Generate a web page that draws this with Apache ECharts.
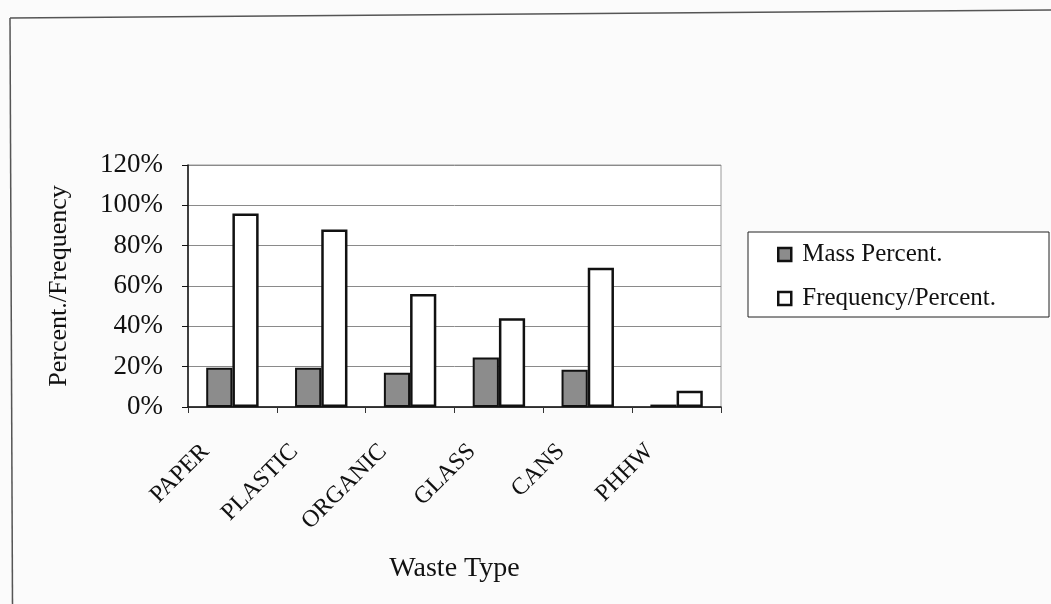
<!DOCTYPE html>
<html>
<head>
<meta charset="utf-8">
<script src="https://cdn.jsdelivr.net/npm/echarts@6/dist/echarts.min.js"></script>
<style>
  html, body { margin: 0; padding: 0; background: #fbfbfb; }
  #chart { width: 1051px; height: 604px; }
</style>
</head>
<body>
<div id="chart"></div>
<script>
// Waste composition: mass share vs. how often each type appears
const categories = ['PAPER', 'PLASTIC', 'ORGANIC', 'GLASS', 'CANS', 'PHHW'];
const massPercent = [19.5, 19.5, 17, 24.5, 18.5, 1.2];
const frequencyPercent = [96, 88, 56, 44, 69, 8];
const yTicks = [0, 20, 40, 60, 80, 100, 120];

const serif = '"Liberation Serif", "Times New Roman", serif';
const chart = echarts.init(document.getElementById('chart'), null, { renderer: 'canvas' });

chart.setOption({
  backgroundColor: '#fbfbfb',
  animation: false,
  textStyle: { fontFamily: serif, color: '#111' },
  graphic: [
    // outer frame (top and left edges)
    { type: 'polyline', shape: { points: [[10, 18], [1051, 10]] },
      style: { stroke: '#555', lineWidth: 1.5, fill: null }, silent: true },
    { type: 'polyline', shape: { points: [[10, 18], [12.5, 604]] },
      style: { stroke: '#555', lineWidth: 1.5, fill: null }, silent: true },
    // legend box
    { type: 'rect', shape: { x: 748, y: 232, width: 301, height: 85 },
      style: { fill: '#fff', stroke: '#222', lineWidth: 1 }, z: 0, silent: true }
  ],
  grid: {
    left: 188, top: 165, width: 533, height: 242,
    show: true, backgroundColor: '#fff', borderColor: '#9a9a9a', borderWidth: 1
  },
  legend: {
    orient: 'vertical',
    left: 772, top: 237,
    itemWidth: 13, itemHeight: 13, itemGap: 19,
    icon: 'rect',
    itemStyle: { borderColor: '#111', borderWidth: 2.5 },
    textStyle: { fontFamily: serif, fontSize: 25, color: '#111', padding: [0, 0, 0, 6] },
    data: ['Mass Percent.', 'Frequency/Percent.'],
    z: 5
  },
  xAxis: {
    type: 'category',
    data: categories,
    name: 'Waste Type',
    nameLocation: 'middle',
    nameGap: 148,
    nameTextStyle: { fontFamily: serif, fontSize: 28, color: '#111' },
    axisLine: { lineStyle: { color: '#111', width: 1.5 } },
    axisTick: { show: true, length: 6, lineStyle: { color: '#333' } },
    axisLabel: {
      rotate: 45, interval: 0, margin: 14,
      padding: [0, 38, 0, 0],
      fontFamily: serif, fontSize: 24, color: '#111'
    },
    splitLine: { show: false }
  },
  yAxis: {
    type: 'value',
    min: yTicks[0], max: yTicks[yTicks.length - 1], interval: 20,
    name: 'Percent./Frequency',
    nameLocation: 'middle',
    nameGap: 116,
    nameTextStyle: { fontFamily: serif, fontSize: 26, color: '#111' },
    axisLine: { show: true, lineStyle: { color: '#111', width: 1.5 } },
    axisTick: { show: true, length: 6, lineStyle: { color: '#111' } },
    axisLabel: {
      margin: 25, fontFamily: serif, fontSize: 27, color: '#111',
      formatter: '{value}%'
    },
    splitLine: { show: true, lineStyle: { color: '#8a8a8a', width: 1 } }
  },
  series: [
    {
      name: 'Mass Percent.',
      type: 'bar',
      data: massPercent,
      barGap: '0%',
      barCategoryGap: '41%',
      itemStyle: { color: '#8c8c8c', borderColor: '#111', borderWidth: 2 }
    },
    {
      name: 'Frequency/Percent.',
      type: 'bar',
      data: frequencyPercent,
      barGap: '0%',
      barCategoryGap: '41%',
      itemStyle: { color: '#ffffff', borderColor: '#111', borderWidth: 2.5 }
    }
  ]
});
</script>
</body>
</html>
